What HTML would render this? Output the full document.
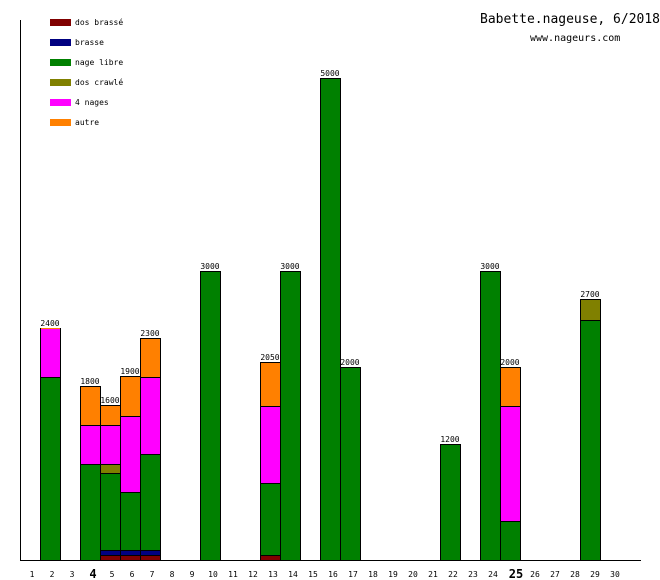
<!DOCTYPE html>
<html><head><meta charset="utf-8"><style>
html,body{margin:0;padding:0;background:#fff;}
svg{display:block;}
text{font-family:"DejaVu Sans Mono","Liberation Mono",monospace;fill:#000;}
</style></head><body>
<svg width="660" height="580" viewBox="0 0 660 580" xmlns="http://www.w3.org/2000/svg" shape-rendering="crispEdges">
<g font-size="8">
<rect x="50" y="19" width="21" height="7" fill="#800000"/><text x="75" y="25">dos brassé</text>
<rect x="50" y="39" width="21" height="7" fill="#000080"/><text x="75" y="45">brasse</text>
<rect x="50" y="59" width="21" height="7" fill="#008000"/><text x="75" y="65">nage libre</text>
<rect x="50" y="79" width="21" height="7" fill="#808000"/><text x="75" y="85">dos crawlé</text>
<rect x="50" y="99" width="21" height="7" fill="#ff00ff"/><text x="75" y="105">4 nages</text>
<rect x="50" y="119" width="21" height="7" fill="#ff8000"/><text x="75" y="125">autre</text>
</g>
<text x="480" y="23" font-size="13">Babette.nageuse, 6/2018</text>
<text x="530" y="41" font-size="10">www.nageurs.com</text>
<g stroke="#000" stroke-width="1">
<!-- day2 -->
<rect x="40.5" y="377.5" width="20" height="183" fill="#008000"/>
<rect x="40.5" y="328.5" width="20" height="49" fill="#ff00ff"/>
<rect x="41" y="328" width="19" height="1" fill="#ff8000" stroke="none"/>
<!-- day4 -->
<rect x="80.5" y="464.5" width="20" height="96" fill="#008000"/>
<rect x="80.5" y="425.5" width="20" height="39" fill="#ff00ff"/>
<rect x="80.5" y="386.5" width="20" height="39" fill="#ff8000"/>
<!-- day5 -->
<rect x="100.5" y="555.5" width="20" height="5" fill="#800000"/>
<rect x="100.5" y="550.5" width="20" height="5" fill="#000080"/>
<rect x="100.5" y="473.5" width="20" height="77" fill="#008000"/>
<rect x="100.5" y="464.5" width="20" height="9" fill="#808000"/>
<rect x="100.5" y="425.5" width="20" height="39" fill="#ff00ff"/>
<rect x="100.5" y="405.5" width="20" height="20" fill="#ff8000"/>
<!-- day6 -->
<rect x="120.5" y="555.5" width="20" height="5" fill="#800000"/>
<rect x="120.5" y="550.5" width="20" height="5" fill="#000080"/>
<rect x="120.5" y="492.5" width="20" height="58" fill="#008000"/>
<rect x="120.5" y="416.5" width="20" height="76" fill="#ff00ff"/>
<rect x="120.5" y="376.5" width="20" height="40" fill="#ff8000"/>
<!-- day7 -->
<rect x="140.5" y="555.5" width="20" height="5" fill="#800000"/>
<rect x="140.5" y="550.5" width="20" height="5" fill="#000080"/>
<rect x="140.5" y="454.5" width="20" height="96" fill="#008000"/>
<rect x="140.5" y="377.5" width="20" height="77" fill="#ff00ff"/>
<rect x="140.5" y="338.5" width="20" height="39" fill="#ff8000"/>
<!-- day10 -->
<rect x="200.5" y="271.5" width="20" height="289" fill="#008000"/>
<!-- day13 -->
<rect x="260.5" y="555.5" width="20" height="5" fill="#800000"/>
<rect x="260.5" y="483.5" width="20" height="72" fill="#008000"/>
<rect x="260.5" y="406.5" width="20" height="77" fill="#ff00ff"/>
<rect x="260.5" y="362.5" width="20" height="44" fill="#ff8000"/>
<!-- day14 -->
<rect x="280.5" y="271.5" width="20" height="289" fill="#008000"/>
<!-- day16 -->
<rect x="320.5" y="78.5" width="20" height="482" fill="#008000"/>
<!-- day17 -->
<rect x="340.5" y="367.5" width="20" height="193" fill="#008000"/>
<!-- day22 -->
<rect x="440.5" y="444.5" width="20" height="116" fill="#008000"/>
<!-- day24 -->
<rect x="480.5" y="271.5" width="20" height="289" fill="#008000"/>
<!-- day25 -->
<rect x="500.5" y="521.5" width="20" height="39" fill="#008000"/>
<rect x="500.5" y="406.5" width="20" height="115" fill="#ff00ff"/>
<rect x="500.5" y="367.5" width="20" height="39" fill="#ff8000"/>
<!-- day29 -->
<rect x="580.5" y="320.5" width="20" height="240" fill="#008000"/>
<rect x="580.5" y="299.5" width="20" height="21" fill="#808000"/>
</g>
<line x1="20.5" y1="20" x2="20.5" y2="561" stroke="#000"/>
<line x1="20" y1="560.5" x2="641" y2="560.5" stroke="#000"/>
<g font-size="8" text-anchor="middle">
<text x="50" y="326">2400</text>
<text x="90" y="384">1800</text>
<text x="110" y="403">1600</text>
<text x="130" y="374">1900</text>
<text x="150" y="336">2300</text>
<text x="210" y="269">3000</text>
<text x="270" y="360">2050</text>
<text x="290" y="269">3000</text>
<text x="330" y="76">5000</text>
<text x="350" y="365">2000</text>
<text x="450" y="442">1200</text>
<text x="490" y="269">3000</text>
<text x="510" y="365">2000</text>
<text x="590" y="297">2700</text>
</g>
<g font-size="8" text-anchor="middle">
<text x="32" y="577">1</text><text x="52" y="577">2</text><text x="72" y="577">3</text>
<text x="93" y="578" font-size="12" font-weight="bold">4</text>
<text x="112" y="577">5</text><text x="132" y="577">6</text><text x="152" y="577">7</text>
<text x="172" y="577">8</text><text x="192" y="577">9</text><text x="213" y="577">10</text>
<text x="233" y="577">11</text><text x="253" y="577">12</text><text x="273" y="577">13</text>
<text x="293" y="577">14</text><text x="313" y="577">15</text><text x="333" y="577">16</text>
<text x="353" y="577">17</text><text x="373" y="577">18</text><text x="393" y="577">19</text>
<text x="413" y="577">20</text><text x="433" y="577">21</text><text x="453" y="577">22</text>
<text x="473" y="577">23</text><text x="493" y="577">24</text>
<text x="516" y="578" font-size="12" font-weight="bold">25</text>
<text x="535" y="577">26</text><text x="555" y="577">27</text><text x="575" y="577">28</text>
<text x="595" y="577">29</text><text x="615" y="577">30</text>
</g>
</svg>
</body></html>
